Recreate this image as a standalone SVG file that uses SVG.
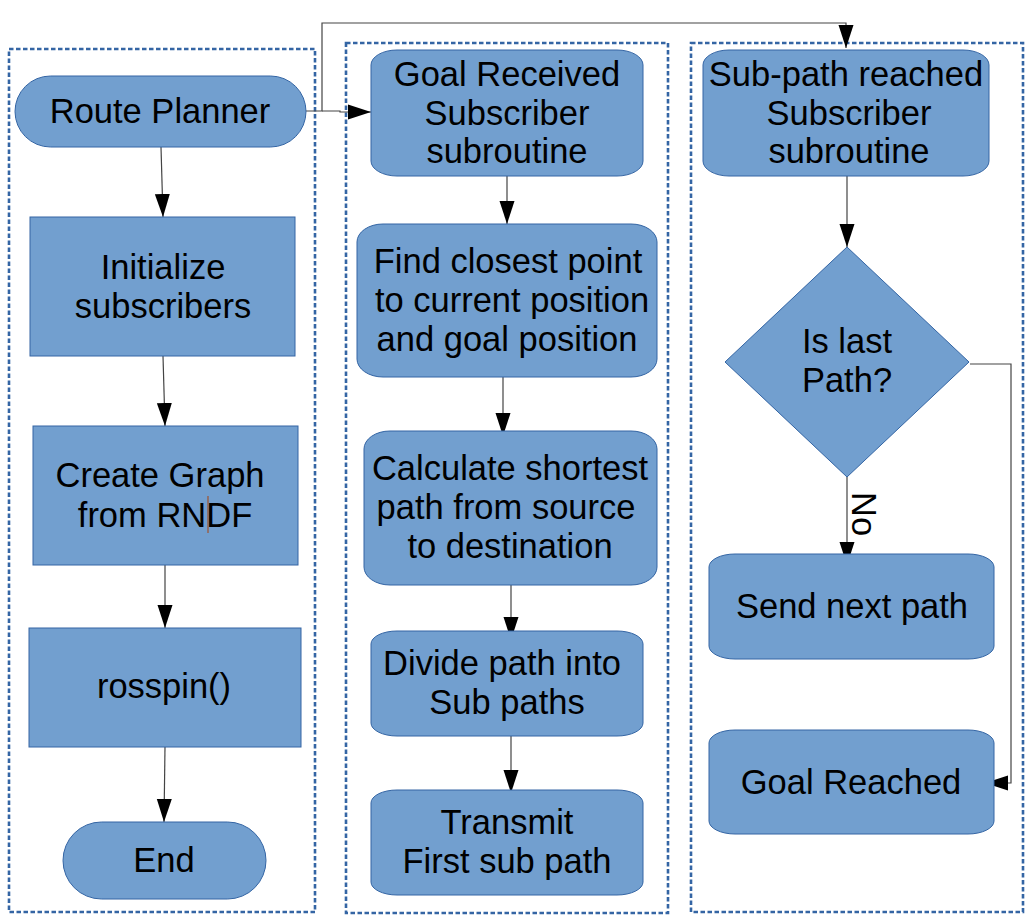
<svg xmlns="http://www.w3.org/2000/svg" width="1032" height="922" viewBox="0 0 1032 922">
<style>
.frame{fill:none;stroke:#3465a4;stroke-width:2.6;stroke-dasharray:4.5 2.5}
.n{fill:#729fcf;stroke:#3465a4;stroke-width:1}
.t{font-family:"Liberation Sans",Arial,sans-serif;font-size:34.5px;fill:#000;text-anchor:middle}
.c{fill:none;stroke:#444;stroke-width:1.2}
</style>
<defs>
<marker id="ah" markerUnits="userSpaceOnUse" markerWidth="24" markerHeight="16" refX="23" refY="8" orient="auto">
<path d="M0,0.5 L23,8 L0,15.5 z" fill="#000"/>
</marker>
</defs>
<rect width="1032" height="922" fill="#fff"/>
<g id="frames">
<rect class="frame" x="9" y="49" width="306" height="863"/>
<rect class="frame" x="346" y="43" width="322" height="870"/>
<rect class="frame" x="691" y="43" width="332" height="869"/>
</g>
<g id="connectors">
<path class="c" d="M161,147 L163,217" marker-end="url(#ah)"/>
<path class="c" d="M163,356 L165,426" marker-end="url(#ah)"/>
<path class="c" d="M165,565 L165,628" marker-end="url(#ah)"/>
<path class="c" d="M165,747 L164,822" marker-end="url(#ah)"/>
<path class="c" d="M306,111 L322,111 L322,23 L846,23 L846,48" marker-end="url(#ah)"/>
<path class="c" d="M322,111 L340,111 L340,112 L371,112" marker-end="url(#ah)"/>
<path class="c" d="M507,176 L507,224" marker-end="url(#ah)"/>
<path class="c" d="M503,377 L503,436" marker-end="url(#ah)"/>
<path class="c" d="M511,585 L511,640" marker-end="url(#ah)"/>
<path class="c" d="M511,736 L511,793" marker-end="url(#ah)"/>
<path class="c" d="M847,176 L847,247" marker-end="url(#ah)"/>
<path class="c" d="M847,477 L847,565" marker-end="url(#ah)"/>
<path class="c" d="M970,364 L1011,364 L1011,783 L985,783" marker-end="url(#ah)"/>
<text class="t" transform="translate(852,492) rotate(90)" style="text-anchor:start">No</text>
</g>
<g id="route-planner">
<rect class="n" x="15" y="76" width="291" height="71" rx="35.5" ry="35.5"/>
<text class="t" x="160" y="123">Route Planner</text>
</g>
<g id="initialize">
<rect class="n" x="30" y="217" width="265" height="139"/>
<text class="t" x="163" y="279">Initialize</text>
<text class="t" x="163" y="318">subscribers</text>
</g>
<g id="create-graph">
<rect class="n" x="33" y="426" width="265" height="139"/>
<text class="t" x="160" y="487">Create Graph</text>
<text class="t" x="165" y="527">from RNDF</text>
<line x1="208" y1="496" x2="208" y2="533" stroke="#a0522d" stroke-width="1.2"/>
</g>
<g id="rosspin">
<rect class="n" x="29" y="628" width="272" height="119"/>
<text class="t" x="164" y="698">rosspin()</text>
</g>
<g id="end">
<rect class="n" x="63" y="822" width="203" height="77" rx="38.5" ry="38.5"/>
<text class="t" x="164" y="872">End</text>
</g>
<g id="goal-received">
<rect class="n" x="371" y="50" width="272" height="126" rx="26" ry="15"/>
<text class="t" x="507" y="86">Goal Received</text>
<text class="t" x="507" y="125">Subscriber</text>
<text class="t" x="507" y="163">subroutine</text>
</g>
<g id="find-closest">
<rect class="n" x="357" y="224" width="300" height="153" rx="26" ry="18"/>
<text class="t" x="508" y="273">Find closest point</text>
<text class="t" x="512" y="312">to current position</text>
<text class="t" x="507" y="351">and goal position</text>
</g>
<g id="calculate">
<rect class="n" x="364" y="431" width="293" height="154" rx="26" ry="18"/>
<text class="t" x="510" y="480">Calculate shortest</text>
<text class="t" x="506" y="519">path from source</text>
<text class="t" x="510" y="558">to destination</text>
</g>
<g id="divide">
<rect class="n" x="371" y="631" width="272" height="105" rx="26" ry="13"/>
<text class="t" x="502" y="675">Divide path into</text>
<text class="t" x="507" y="714">Sub paths</text>
</g>
<g id="transmit">
<rect class="n" x="371" y="790" width="272" height="105" rx="26" ry="13"/>
<text class="t" x="507" y="834">Transmit</text>
<text class="t" x="507" y="873">First sub path</text>
</g>
<g id="subpath-reached">
<rect class="n" x="703" y="50" width="286" height="126" rx="26" ry="15"/>
<text class="t" x="846" y="86">Sub-path reached</text>
<text class="t" x="849" y="125">Subscriber</text>
<text class="t" x="849" y="163">subroutine</text>
</g>
<g id="is-last-path">
<polygon class="n" points="847,247 969,362 847,477 725,362"/>
<text class="t" x="847" y="353">Is last</text>
<text class="t" x="847" y="392">Path?</text>
</g>
<g id="send-next-path">
<rect class="n" x="709" y="554" width="285" height="105" rx="26" ry="13"/>
<text class="t" x="852" y="618">Send next path</text>
</g>
<g id="goal-reached">
<rect class="n" x="709" y="730" width="285" height="104" rx="26" ry="13"/>
<text class="t" x="851" y="794">Goal Reached</text>
</g>
</svg>
